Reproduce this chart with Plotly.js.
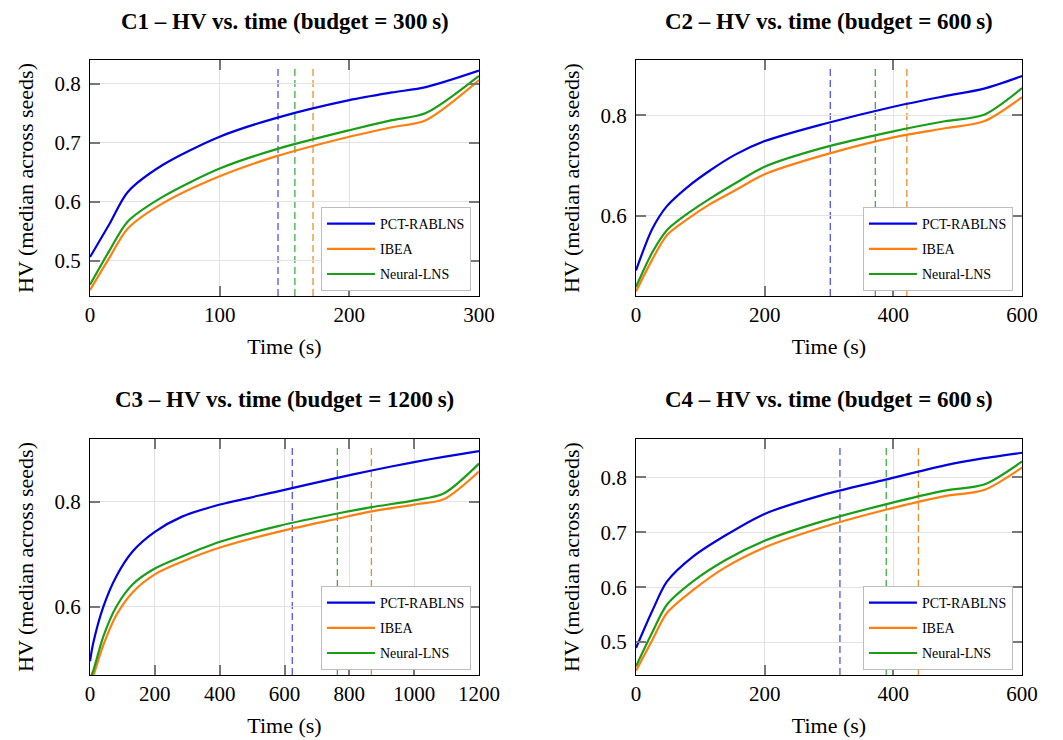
<!DOCTYPE html>
<html>
<head>
<meta charset="utf-8">
<script src="https://cdn.plot.ly/plotly-3.0.1.min.js"></script>
<style>
  html, body { margin: 0; padding: 0; background: #ffffff; }
  #chart { width: 1063px; height: 740px; }
</style>
</head>
<body>
<div id="chart"></div>
<script>
// ---------------- data ----------------
const seriesNames = ['PCT-RABLNS', 'IBEA', 'Neural-LNS'];
const panelTitles = [
  'C1 \u2013 HV vs. time (budget = 300\u2009s)',
  'C2 \u2013 HV vs. time (budget = 600\u2009s)',
  'C3 \u2013 HV vs. time (budget = 1200\u2009s)',
  'C4 \u2013 HV vs. time (budget = 600\u2009s)'
];
const xTitle = 'Time (s)';
const yTitle = 'HV (median across seeds)';

// C1
const c1Time   = [0, 15, 29, 56, 100, 144, 200, 233, 259, 300];
const c1Pct    = [0.506, 0.562, 0.616, 0.662, 0.710, 0.742, 0.772, 0.785, 0.794, 0.822];
const c1Ibea   = [0.450, 0.505, 0.554, 0.597, 0.643, 0.677, 0.710, 0.726, 0.738, 0.806];
const c1Neural = [0.459, 0.517, 0.566, 0.608, 0.656, 0.689, 0.721, 0.738, 0.750, 0.813];
const c1Marks  = [145, 158, 172];

// C2
const c2Time   = [0, 25, 48, 80, 115, 155, 199, 290, 400, 480, 541, 600];
const c2Pct    = [0.491, 0.573, 0.619, 0.657, 0.690, 0.722, 0.748, 0.782, 0.817, 0.838, 0.853, 0.878];
const c2Ibea   = [0.449, 0.512, 0.561, 0.593, 0.623, 0.651, 0.682, 0.720, 0.756, 0.774, 0.788, 0.836];
const c2Neural = [0.458, 0.526, 0.571, 0.604, 0.634, 0.665, 0.697, 0.735, 0.768, 0.788, 0.801, 0.854];
const c2Marks  = [302, 372, 421];

// C3
const c3Time   = [0, 10, 41, 81, 132, 200, 284, 401, 580, 763, 869, 1000, 1091, 1200];
const c3Pct    = [0.496, 0.531, 0.600, 0.658, 0.706, 0.743, 0.772, 0.795, 0.820, 0.846, 0.860, 0.876, 0.886, 0.897];
const c3Ibea   = [0.452, 0.468, 0.527, 0.584, 0.628, 0.662, 0.686, 0.713, 0.743, 0.768, 0.782, 0.795, 0.805, 0.858];
const c3Neural = [0.463, 0.478, 0.543, 0.600, 0.643, 0.673, 0.696, 0.724, 0.754, 0.778, 0.790, 0.803, 0.816, 0.873];
const c3Marks  = [624, 763, 868];

// C4
const c4Time   = [0, 25, 48, 89, 140, 199, 284, 388, 480, 541, 600];
const c4Pct    = [0.489, 0.556, 0.610, 0.656, 0.695, 0.733, 0.766, 0.796, 0.822, 0.835, 0.845];
const c4Ibea   = [0.448, 0.503, 0.553, 0.595, 0.637, 0.672, 0.707, 0.741, 0.766, 0.777, 0.818];
const c4Neural = [0.456, 0.517, 0.568, 0.611, 0.650, 0.684, 0.718, 0.751, 0.776, 0.787, 0.829];
const c4Marks  = [317, 389, 439];

// axis ranges & ticks
const xRanges = [[0, 300], [0, 600], [0, 1200], [0, 600]];
const xDticks = [100, 200, 200, 200];
const yRanges = [[0.44, 0.84], [0.44, 0.91], [0.47, 0.92], [0.44, 0.87]];
const yDticks = [0.1, 0.2, 0.2, 0.1];

// ---------------- styling ----------------
const FONT = 'Liberation Serif, Times New Roman, serif';
const lineColors = ['#0000e0', '#ff7f0e', '#1a9e1a'];
const dashColors = ['rgba(40,40,230,0.8)', 'rgba(30,160,30,0.85)', 'rgba(240,125,20,0.9)'];

const panels = [
  {time: c1Time, ys: [c1Pct, c1Ibea, c1Neural], marks: c1Marks},
  {time: c2Time, ys: [c2Pct, c2Ibea, c2Neural], marks: c2Marks},
  {time: c3Time, ys: [c3Pct, c3Ibea, c3Neural], marks: c3Marks},
  {time: c4Time, ys: [c4Pct, c4Ibea, c4Neural], marks: c4Marks}
];

const xDomains = [[0, 0.41738], [0.58584, 1], [0, 0.41738], [0.58584, 1]];
const yDomains = [[0.61626, 1], [0.61626, 1], [0, 0.38374], [0, 0.38374]];
const legendPos = [[0.4088, 0.6244], [0.9903, 0.6244], [0.4088, 0.0081], [0.9903, 0.0081]];
const titlePos = [[0.2087, 1.0618], [0.7929, 1.0618], [0.2087, 0.4472], [0.7929, 0.4472]];

const traces = [];
const shapes = [];
const annotations = [];
const layout = {
  width: 1063, height: 740,
  margin: {l: 90, r: 41, t: 60, b: 65},
  paper_bgcolor: '#ffffff', plot_bgcolor: '#ffffff',
  font: {family: FONT, color: '#000', size: 20},
  showlegend: true
};

panels.forEach((p, i) => {
  const n = i + 1;
  const xa = 'x' + (n === 1 ? '' : n);
  const ya = 'y' + (n === 1 ? '' : n);
  const legName = 'legend' + (n === 1 ? '' : n);
  p.marks.forEach((m, k) => {
    shapes.push({
      type: 'line', layer: 'below',
      xref: xa, yref: ya + ' domain',
      x0: m, x1: m, y0: 0, y1: 0.978,
      line: {color: dashColors[k], width: 1.3, dash: '7px,4px'}
    });
  });
  p.ys.forEach((ys, k) => {
    traces.push({
      type: 'scatter', mode: 'lines',
      x: p.time, y: ys,
      name: seriesNames[k],
      xaxis: xa, yaxis: ya,
      legend: legName,
      legendgroup: 'g' + n + '_' + k,
      line: {color: lineColors[k], width: 2.2, shape: 'spline', smoothing: 0.8},
      hoverinfo: 'x+y+name'
    });
  });
  const axKeyX = 'xaxis' + (n === 1 ? '' : n);
  const axKeyY = 'yaxis' + (n === 1 ? '' : n);
  layout[axKeyX] = {
    domain: xDomains[i], anchor: ya,
    range: xRanges[i], dtick: xDticks[i], tick0: 0,
    showgrid: true, gridcolor: '#e3e3e3', gridwidth: 1,
    zeroline: false,
    showline: true, linecolor: '#000', linewidth: 1.2, mirror: 'ticks',
    ticks: 'inside', ticklen: 10, tickwidth: 1.5, tickcolor: '#777',
    tickfont: {family: FONT, size: 21, color: '#000'},
    title: {text: xTitle, font: {family: FONT, size: 22, color: '#000'}, standoff: 12},
    fixedrange: true
  };
  layout[axKeyY] = {
    domain: yDomains[i], anchor: xa,
    range: yRanges[i], dtick: yDticks[i], tick0: 0,
    tickformat: '.1f',
    showgrid: true, gridcolor: '#e3e3e3', gridwidth: 1,
    zeroline: false,
    showline: true, linecolor: '#000', linewidth: 1.2, mirror: 'ticks',
    ticks: 'inside', ticklen: 10, tickwidth: 1.5, tickcolor: '#777',
    tickfont: {family: FONT, size: 21, color: '#000'},
    ticklabelstandoff: 4,
    title: {text: yTitle, font: {family: FONT, size: 22, color: '#000'}, standoff: 14},
    fixedrange: true
  };
  layout[legName] = {
    x: legendPos[i][0], y: legendPos[i][1],
    xanchor: 'right', yanchor: 'bottom',
    bgcolor: '#ffffff', bordercolor: '#bdbdbd', borderwidth: 1,
    font: {family: FONT, size: 14, color: '#000'},
    tracegroupgap: 4,
    traceorder: 'grouped',
    itemwidth: 48
  };
  annotations.push({
    xref: 'paper', yref: 'paper',
    x: titlePos[i][0], y: titlePos[i][1],
    xanchor: 'center', yanchor: 'middle',
    text: '<b>' + panelTitles[i] + '</b>',
    showarrow: false,
    font: {family: FONT, size: 23, color: '#000'}
  });
});

layout.shapes = shapes;
layout.annotations = annotations;

Plotly.newPlot('chart', traces, layout, {displayModeBar: false, staticPlot: false});
</script>
</body>
</html>
